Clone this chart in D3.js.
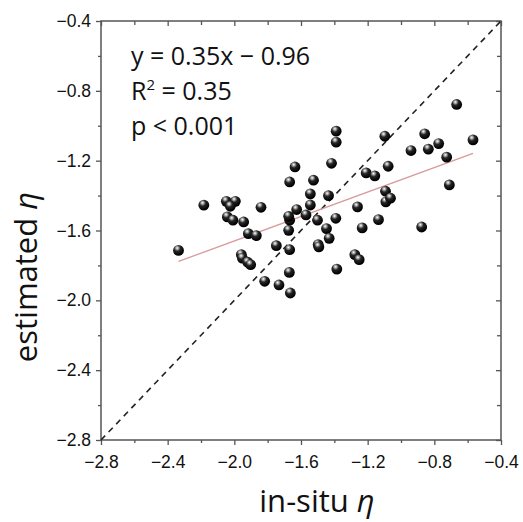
<!DOCTYPE html>
<html>
<head>
<meta charset="utf-8">
<script src="https://cdn.jsdelivr.net/npm/d3@7"></script>
<style>
  body { margin: 0; background: #fff; }
</style>
</head>
<body>
<svg id="chart" width="523" height="522"></svg>
<script>
// values
const insitu = [
  -2.335, -2.183, -2.048, -1.994, -2.024, -2.042, -2.008, -1.944, -1.840, -1.916,
  -1.868, -1.958, -1.952, -1.920, -1.902, -1.818, -1.732, -1.664, -1.670, -1.748,
  -1.668, -1.674, -1.668, -1.674, -1.626, -1.668, -1.636, -1.570, -1.544, -1.544,
  -1.525, -1.501, -1.447, -1.431, -1.497, -1.493, -1.435, -1.417, -1.391, -1.385,
  -1.389, -1.389, -1.261, -1.233, -1.277, -1.251, -1.209, -1.157, -1.135, -1.097,
  -1.077, -1.093, -1.091, -1.063, -0.940, -0.858, -0.836, -0.774, -0.726, -0.710,
  -0.876, -0.666, -0.568
];
const estimated = [
  -1.714, -1.455, -1.433, -1.433, -1.461, -1.522, -1.541, -1.551, -1.467, -1.618,
  -1.629, -1.738, -1.758, -1.782, -1.796, -1.891, -1.912, -1.958, -1.840, -1.687,
  -1.710, -1.599, -1.541, -1.519, -1.480, -1.322, -1.236, -1.511, -1.454, -1.390,
  -1.312, -1.541, -1.589, -1.645, -1.681, -1.694, -1.400, -1.215, -1.530, -1.821,
  -1.031, -1.094, -1.465, -1.585, -1.738, -1.767, -1.270, -1.287, -1.538, -1.060,
  -1.232, -1.375, -1.436, -1.415, -1.142, -1.046, -1.134, -1.102, -1.180, -1.339,
  -1.580, -0.878, -1.081
];
const majorTicks = [-2.8, -2.4, -2.0, -1.6, -1.2, -0.8, -0.4];
const minorTicks = [-2.6, -2.2, -1.8, -1.4, -1.0, -0.6];
const axisRange = [-2.8, -0.4];
const fitSlope = 0.35;
const fitIntercept = -0.96;

const svg = d3.select("#chart");
const pLeft = 101, pRight = 501, pTop = 21, pBottom = 440;

const x = d3.scaleLinear().domain(axisRange).range([pLeft, pRight]);
const y = d3.scaleLinear().domain(axisRange).range([pBottom, pTop]);
const fmt = d3.format(".1f");

// sphere shading
const grad = svg.append("defs").append("radialGradient")
  .attr("id", "ball")
  .attr("cx", "38%").attr("cy", "30%").attr("r", "65%")
  .attr("fx", "38%").attr("fy", "28%");
grad.append("stop").attr("offset", "0%").attr("stop-color", "#ffffff");
grad.append("stop").attr("offset", "22%").attr("stop-color", "#9a9a9a");
grad.append("stop").attr("offset", "45%").attr("stop-color", "#262626");
grad.append("stop").attr("offset", "100%").attr("stop-color", "#000000");

const axisColor = "#555";

// minor ticks (no labels)
svg.append("g").attr("transform", `translate(0,${pBottom})`)
  .call(d3.axisBottom(x).tickValues(minorTicks).tickSize(3).tickFormat(""));
svg.append("g").attr("transform", `translate(${pLeft},0)`)
  .call(d3.axisLeft(y).tickValues(minorTicks).tickSize(3).tickFormat(""));
svg.append("g").attr("transform", `translate(0,${pTop})`)
  .call(d3.axisTop(x).tickValues(minorTicks).tickSize(-4).tickFormat(""));
svg.append("g").attr("transform", `translate(${pRight},0)`)
  .call(d3.axisRight(y).tickValues(minorTicks).tickSize(-4).tickFormat(""));

// major ticks
svg.append("g").attr("transform", `translate(0,${pBottom})`)
  .call(d3.axisBottom(x).tickValues(majorTicks).tickSize(5).tickPadding(11).tickFormat(fmt));
svg.append("g").attr("transform", `translate(${pLeft},0)`)
  .call(d3.axisLeft(y).tickValues(majorTicks).tickSize(5).tickPadding(5).tickFormat(fmt));
svg.append("g").attr("transform", `translate(0,${pTop})`)
  .call(d3.axisTop(x).tickValues(majorTicks).tickSize(-5).tickFormat(""));
svg.append("g").attr("transform", `translate(${pRight},0)`)
  .call(d3.axisRight(y).tickValues(majorTicks).tickSize(-5).tickFormat(""));

svg.selectAll(".domain").remove();
svg.selectAll(".tick line").attr("stroke", axisColor).attr("stroke-width", 1.3);
svg.selectAll(".tick text")
  .attr("fill", "#111")
  .style("font-family", "'Liberation Sans', Arial, sans-serif")
  .style("font-size", "17.5px");

// frame
svg.append("rect")
  .attr("x", pLeft).attr("y", pTop)
  .attr("width", pRight - pLeft).attr("height", pBottom - pTop)
  .attr("fill", "none").attr("stroke", axisColor).attr("stroke-width", 1.5);

// 1:1 line
svg.append("line")
  .attr("x1", x(axisRange[0])).attr("y1", y(axisRange[0]))
  .attr("x2", x(axisRange[1])).attr("y2", y(axisRange[1]))
  .attr("stroke", "#222").attr("stroke-width", 1.6)
  .attr("stroke-dasharray", "6,5");

// regression line over the data range
const [xmin, xmax] = d3.extent(insitu);
svg.append("line")
  .attr("x1", x(xmin)).attr("y1", y(fitSlope * xmin + fitIntercept))
  .attr("x2", x(xmax)).attr("y2", y(fitSlope * xmax + fitIntercept))
  .attr("stroke", "#d99a9a").attr("stroke-width", 1.3);

// points
svg.append("g").selectAll("circle")
  .data(d3.zip(insitu, estimated))
  .join("circle")
  .attr("cx", d => x(d[0]))
  .attr("cy", d => y(d[1]))
  .attr("r", 5.4)
  .attr("fill", "url(#ball)");

// stats text
const textFont = "'Open Sans', 'Noto Sans', sans-serif";
const stats = svg.append("g")
  .style("font-family", textFont)
  .style("font-size", "25px")
  .attr("fill", "#111");
stats.append("text").attr("x", 131).attr("y", 65).text("y = 0.35x − 0.96");
const r2 = stats.append("text").attr("x", 131).attr("y", 100);
r2.append("tspan").text("R");
r2.append("tspan").attr("dy", -10).style("font-size", "15px").text("2");
r2.append("tspan").attr("dy", 10).text(" = 0.35");
stats.append("text").attr("x", 131).attr("y", 135).text("p < 0.001");

// axis titles
const xt = svg.append("text")
  .attr("x", 317).attr("y", 512)
  .attr("text-anchor", "middle")
  .style("font-family", textFont).style("font-size", "31px")
  .attr("fill", "#111");
xt.append("tspan").text("in-situ ");
xt.append("tspan").style("font-style", "italic").text("η");

const yt = svg.append("text")
  .attr("transform", "translate(37,277) rotate(-90)")
  .attr("text-anchor", "middle")
  .style("font-family", textFont).style("font-size", "31px")
  .attr("fill", "#111");
yt.append("tspan").text("estimated ");
yt.append("tspan").style("font-style", "italic").text("η");
</script>
</body>
</html>
